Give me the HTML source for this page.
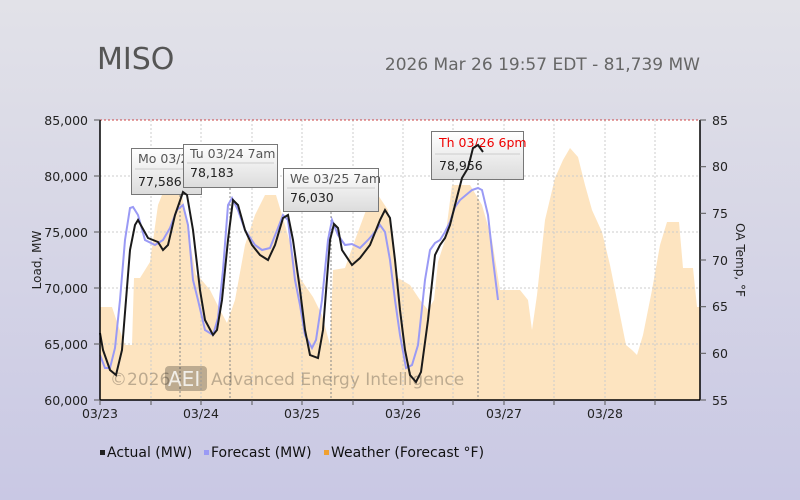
<!DOCTYPE html>
<html><head><meta charset="utf-8"><style>
html,body{margin:0;padding:0;width:800px;height:500px;overflow:hidden}
body{background:linear-gradient(#e2e2e8,#c9c8e4);font-family:"Liberation Sans","DejaVu Sans",sans-serif}
svg{display:block}
</style></head><body>
<svg width="800" height="500" xmlns="http://www.w3.org/2000/svg" font-family="DejaVu Sans, Liberation Sans, sans-serif">
<text x="97" y="69" font-size="30" fill="#555">MISO</text>
<text x="700" y="70" font-size="17" fill="#666" text-anchor="end">2026 Mar 26 19:57 EDT - 81,739 MW</text>
<rect x="100" y="120" width="600" height="280" fill="#fff"/>
<polygon fill="#fde4c0" points="100,400 100,307 112,307 118,325 125,345 132,345 134,278 140,278 150,262 158,205 162,195 182,195 188,230 196,275 200,278 210,290 220,310 227,323 235,300 245,245 255,215 265,195 276,195 285,225 300,278 313,297 322,315 330,345 333,270 345,268 355,240 368,205 378,195 388,210 398,278 410,285 420,300 428,310 434,300 438,262 445,240 452,185 470,185 482,205 492,240 500,290 520,290 528,300 532,330 537,295 545,220 555,178 563,160 570,148 578,157 585,185 592,210 602,232 610,265 620,315 626,345 632,350 637,355 643,335 652,290 660,245 667,222 679,222 683,268 693,268 697,307 700,307 700,400"/>
<g stroke="#ccc" stroke-dasharray="2,2" stroke-width="1">
<line x1="100" y1="176" x2="700" y2="176"/><line x1="100" y1="232" x2="700" y2="232"/><line x1="100" y1="288" x2="700" y2="288"/><line x1="100" y1="344" x2="700" y2="344"/>
<line x1="151" y1="120" x2="151" y2="400"/><line x1="201" y1="120" x2="201" y2="400"/><line x1="252" y1="120" x2="252" y2="400"/><line x1="302" y1="120" x2="302" y2="400"/><line x1="353" y1="120" x2="353" y2="400"/><line x1="403" y1="120" x2="403" y2="400"/><line x1="453" y1="120" x2="453" y2="400"/><line x1="504" y1="120" x2="504" y2="400"/><line x1="554" y1="120" x2="554" y2="400"/><line x1="605" y1="120" x2="605" y2="400"/><line x1="655" y1="120" x2="655" y2="400"/>
</g>
<line x1="100" y1="120" x2="700" y2="120" stroke="#c44" stroke-dasharray="2,2"/>
<g stroke="#888" stroke-dasharray="2,2"><line x1="180" y1="195" x2="180" y2="400"/><line x1="230" y1="188" x2="230" y2="400"/><line x1="331" y1="212" x2="331" y2="400"/><line x1="478" y1="179" x2="478" y2="400"/></g>
<text x="110" y="385" font-size="17" fill="#000" opacity="0.25">©2026</text>
<rect x="165" y="366" width="42" height="25" rx="4" fill="#000" opacity="0.25"/>
<text x="168" y="386" font-size="20" fill="#fff" opacity="0.8">AEI</text>
<text x="211" y="385" font-size="17" fill="#000" opacity="0.25">Advanced Energy Intelligence</text>
<defs><linearGradient id="tg" x1="0" y1="0" x2="0" y2="1"><stop offset="0" stop-color="#fff"/><stop offset="1" stop-color="#dcdcdc"/></linearGradient></defs>
<g font-size="12.5">
<rect x="131.5" y="148.5" width="70" height="46" fill="url(#tg)" stroke="#777"/>
<text x="138" y="163" fill="#555">Mo 03/2</text><line x1="135" y1="169" x2="200" y2="169" stroke="#ccc"/><text x="138" y="186" fill="#222">77,586</text>
<rect x="183.5" y="144.5" width="94" height="43" fill="url(#tg)" stroke="#777"/>
<text x="190" y="158" fill="#555">Tu 03/24 7am</text><line x1="187" y1="163" x2="274" y2="163" stroke="#ccc"/><text x="190" y="177" fill="#222">78,183</text>
<rect x="283.5" y="168.5" width="95" height="43" fill="url(#tg)" stroke="#777"/>
<text x="290" y="183" fill="#555">We 03/25 7am</text><line x1="287" y1="188" x2="375" y2="188" stroke="#ccc"/><text x="290" y="202" fill="#222">76,030</text>
<rect x="431.5" y="131.5" width="92" height="48" fill="url(#tg)" stroke="#777"/>
<text x="439" y="147" fill="#e00">Th 03/26 6pm</text><line x1="435" y1="154" x2="520" y2="154" stroke="#ccc"/><text x="439" y="170" fill="#222">78,956</text>
</g>
<polyline fill="none" stroke="#9a9af5" stroke-width="2" points="100,355 105,368 110,368 115,348 120,300 125,240 130,208 133,207 138,215 145,240 155,245 163,240 170,228 177,210 183,205 188,225 193,280 198,300 205,330 213,335 218,318 223,270 228,205 232,198 238,210 245,230 255,245 262,250 270,248 278,228 283,215 288,220 295,280 300,305 305,335 312,348 316,340 322,300 328,240 332,220 338,235 345,245 352,244 360,248 368,240 375,232 380,225 385,232 390,260 395,300 400,335 406,368 412,365 418,345 425,280 430,250 435,243 440,240 445,232 450,222 455,207 460,200 466,195 472,190 478,188 482,190 488,215 493,260 498,300"/>
<polyline fill="none" stroke="#1a1a1a" stroke-width="2" points="100,333 103,350 110,370 116,375 122,350 130,250 135,225 138,220 148,238 158,242 163,250 168,245 175,215 183,192 187,195 193,230 200,290 205,320 213,335 217,330 222,300 228,240 233,200 238,205 245,230 252,245 260,255 268,260 275,245 283,218 288,215 293,240 300,290 305,330 310,355 318,358 323,330 330,240 334,224 338,228 342,250 352,265 360,258 370,245 380,220 385,210 390,218 395,260 400,310 405,350 410,375 416,382 421,372 428,320 435,255 440,245 445,238 450,225 455,205 462,178 468,168 473,148 478,145 483,152"/>
<line x1="100" y1="120" x2="100" y2="400" stroke="#000" stroke-width="1.5"/>
<line x1="700" y1="120" x2="700" y2="400" stroke="#000" stroke-width="1.5"/>
<line x1="100" y1="400" x2="700" y2="400" stroke="#000" stroke-width="1.5"/>
<g stroke="#555"><line x1="94" y1="120" x2="100" y2="120"/><line x1="94" y1="176" x2="100" y2="176"/><line x1="94" y1="232" x2="100" y2="232"/><line x1="94" y1="288" x2="100" y2="288"/><line x1="94" y1="344" x2="100" y2="344"/><line x1="94" y1="400" x2="100" y2="400"/>
<line x1="700" y1="120" x2="706" y2="120"/><line x1="700" y1="166.7" x2="706" y2="166.7"/><line x1="700" y1="213.3" x2="706" y2="213.3"/><line x1="700" y1="260" x2="706" y2="260"/><line x1="700" y1="306.7" x2="706" y2="306.7"/><line x1="700" y1="353.3" x2="706" y2="353.3"/><line x1="700" y1="400" x2="706" y2="400"/>
<line x1="100" y1="400" x2="100" y2="405"/><line x1="151" y1="400" x2="151" y2="405"/><line x1="201" y1="400" x2="201" y2="405"/><line x1="252" y1="400" x2="252" y2="405"/><line x1="302" y1="400" x2="302" y2="405"/><line x1="353" y1="400" x2="353" y2="405"/><line x1="403" y1="400" x2="403" y2="405"/><line x1="453" y1="400" x2="453" y2="405"/><line x1="504" y1="400" x2="504" y2="405"/><line x1="554" y1="400" x2="554" y2="405"/><line x1="605" y1="400" x2="605" y2="405"/><line x1="655" y1="400" x2="655" y2="405"/></g>
<g font-size="12.5" fill="#222" text-anchor="end">
<text x="88" y="125">85,000</text><text x="88" y="181">80,000</text><text x="88" y="237">75,000</text><text x="88" y="293">70,000</text><text x="88" y="349">65,000</text><text x="88" y="405">60,000</text></g>
<g font-size="12.5" fill="#222">
<text x="712" y="125">85</text><text x="712" y="171">80</text><text x="712" y="218">75</text><text x="712" y="265">70</text><text x="712" y="311">65</text><text x="712" y="358">60</text><text x="712" y="405">55</text></g>
<g font-size="12.5" fill="#222" text-anchor="middle">
<text x="100" y="418">03/23</text><text x="201" y="418">03/24</text><text x="302" y="418">03/25</text><text x="403" y="418">03/26</text><text x="504" y="418">03/27</text><text x="605" y="418">03/28</text></g>
<text transform="translate(41,260) rotate(-90)" font-size="12" fill="#222" text-anchor="middle">Load, MW</text>
<text transform="translate(736,260) rotate(90)" font-size="12" fill="#222" text-anchor="middle">OA Temp, °F</text>
<g font-size="14" fill="#111">
<rect x="100" y="450" width="5" height="5" fill="#222"/><text x="107" y="457">Actual (MW)</text>
<rect x="204" y="450" width="5" height="5" fill="#9a9af5"/><text x="211" y="457">Forecast (MW)</text>
<rect x="324" y="450" width="5" height="5" fill="#f0a030"/><text x="331" y="457">Weather (Forecast °F)</text>
</g>
</svg>
</body></html>
